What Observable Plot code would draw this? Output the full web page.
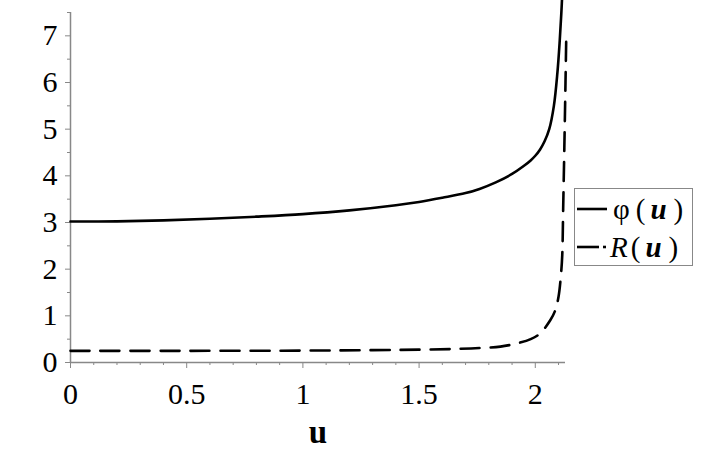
<!DOCTYPE html>
<html>
<head>
<meta charset="utf-8">
<script src="https://cdn.jsdelivr.net/npm/d3@7"></script>
<script src="https://cdn.jsdelivr.net/npm/@observablehq/plot@0.6"></script>
<style>
  html, body { margin: 0; padding: 0; background: white; }
  #wrap { position: relative; width: 704px; height: 458px; }
  #legend {
    position: absolute; left: 574px; top: 188px; width: 117px; height: 76px;
    border: 1.5px solid #888; background: white;
    font-family: "Liberation Serif", serif; font-size: 29px; color: black;
  }
  .row { position: absolute; left: 0; height: 36px; display: flex; align-items: center; }
  .row svg { display: block; }
  .lbl { white-space: nowrap; line-height: 1; }
  .lbl span { display: inline-block; }
</style>
</head>
<body>
<div id="wrap">
  <div id="chart"></div>
  <div id="legend">
    <div class="row" style="top:2px">
      <svg width="38" height="36"><line x1="2" x2="32" y1="18" y2="18" stroke="black" stroke-width="2.6"/></svg>
      <span class="lbl"><span>φ</span><span style="margin-left:6px">(</span><span style="margin-left:5px"><b><i>u</i></b></span><span style="margin-left:7px">)</span></span>
    </div>
    <div class="row" style="top:40px">
      <svg width="35" height="36"><line x1="2" x2="24" y1="18" y2="18" stroke="black" stroke-width="2.6"/><line x1="28" x2="31" y1="18" y2="18" stroke="black" stroke-width="2.6"/></svg>
      <span class="lbl"><span><i>R</i></span><span style="margin-left:3px">(</span><span style="margin-left:5px"><b><i>u</i></b></span><span style="margin-left:7px">)</span></span>
    </div>
  </div>
</div>
<script>
// φ(u) series
const phiU = [0, 0.2, 0.4, 0.6, 0.8, 1.0, 1.2, 1.4, 1.5, 1.6, 1.7, 1.76, 1.83, 1.9, 1.95, 1.98, 2.0, 2.02, 2.04, 2.06, 2.08, 2.095, 2.105, 2.112, 2.117];
const phiV = [3.02, 3.025, 3.045, 3.08, 3.125, 3.18, 3.26, 3.37, 3.44, 3.53, 3.63, 3.72, 3.86, 4.04, 4.21, 4.33, 4.43, 4.56, 4.74, 5.0, 5.5, 6.2, 6.88, 7.48, 8.0];
// R(u) series
const rU = [0, 0.5, 1.0, 1.3, 1.5, 1.65, 1.76, 1.85, 1.93, 1.98, 2.02, 2.065, 2.086, 2.10, 2.11, 2.116, 2.12, 2.125, 2.13, 2.133];
const rV = [0.25, 0.25, 0.255, 0.265, 0.275, 0.29, 0.31, 0.34, 0.42, 0.5, 0.62, 0.91, 1.12, 1.41, 1.85, 2.3, 3.3, 4.6, 6.0, 6.9];
// ticks
const xMajor = [0, 0.5, 1, 1.5, 2];
const xMinor = [0.1, 0.2, 0.3, 0.4, 0.6, 0.7, 0.8, 0.9, 1.1, 1.2, 1.3, 1.4, 1.6, 1.7, 1.8, 1.9, 2.1];
const yMajor = [0, 1, 2, 3, 4, 5, 6, 7];
const yMinor = [0.5, 1.5, 2.5, 3.5, 4.5, 5.5, 6.5, 7.5];
const xLabel = "u";

const phiData = phiU.map((u, i) => ({u, v: phiV[i]}));
const rData = rU.map((u, i) => ({u, v: rV[i]}));

const axisGray = "#888";
const plot = Plot.plot({
  width: 704,
  height: 458,
  marginLeft: 70,
  marginRight: 139,
  marginTop: 12,
  marginBottom: 96,
  style: {fontFamily: "Liberation Serif", fontSize: "30px", color: "black", background: "white"},
  x: {domain: [0, 2.13]},
  y: {domain: [0, 7.5]},
  marks: [
    Plot.axisX({ticks: xMinor, tickSize: 3, tickFormat: () => "", stroke: axisGray, label: null}),
    Plot.axisX({ticks: xMajor, tickSize: 6, tickPadding: 14, tickFormat: d => String(d), stroke: axisGray, fill: "black", fontSize: 30, label: null}),
    Plot.axisY({ticks: yMinor, tickSize: 3, tickFormat: () => "", stroke: axisGray, label: null}),
    Plot.axisY({ticks: yMajor, tickSize: 5, tickPadding: 8, tickFormat: d => String(d), stroke: axisGray, fill: "black", fontSize: 30, label: null}),
    Plot.ruleX([0], {stroke: axisGray, strokeWidth: 1.5}),
    Plot.ruleY([0], {stroke: axisGray, strokeWidth: 1.5}),
    Plot.line(rData, {x: "u", y: "v", stroke: "black", strokeWidth: 2.6, strokeDasharray: "19,11", curve: "catmull-rom"}),
    Plot.line(phiData, {x: "u", y: "v", stroke: "black", strokeWidth: 2.6, curve: "catmull-rom"}),
    Plot.text([xLabel], {frameAnchor: "bottom", dy: 70, lineAnchor: "middle", fontWeight: "bold", fontSize: 33, fill: "black"})
  ]
});
document.getElementById("chart").appendChild(plot);
</script>
</body>
</html>
